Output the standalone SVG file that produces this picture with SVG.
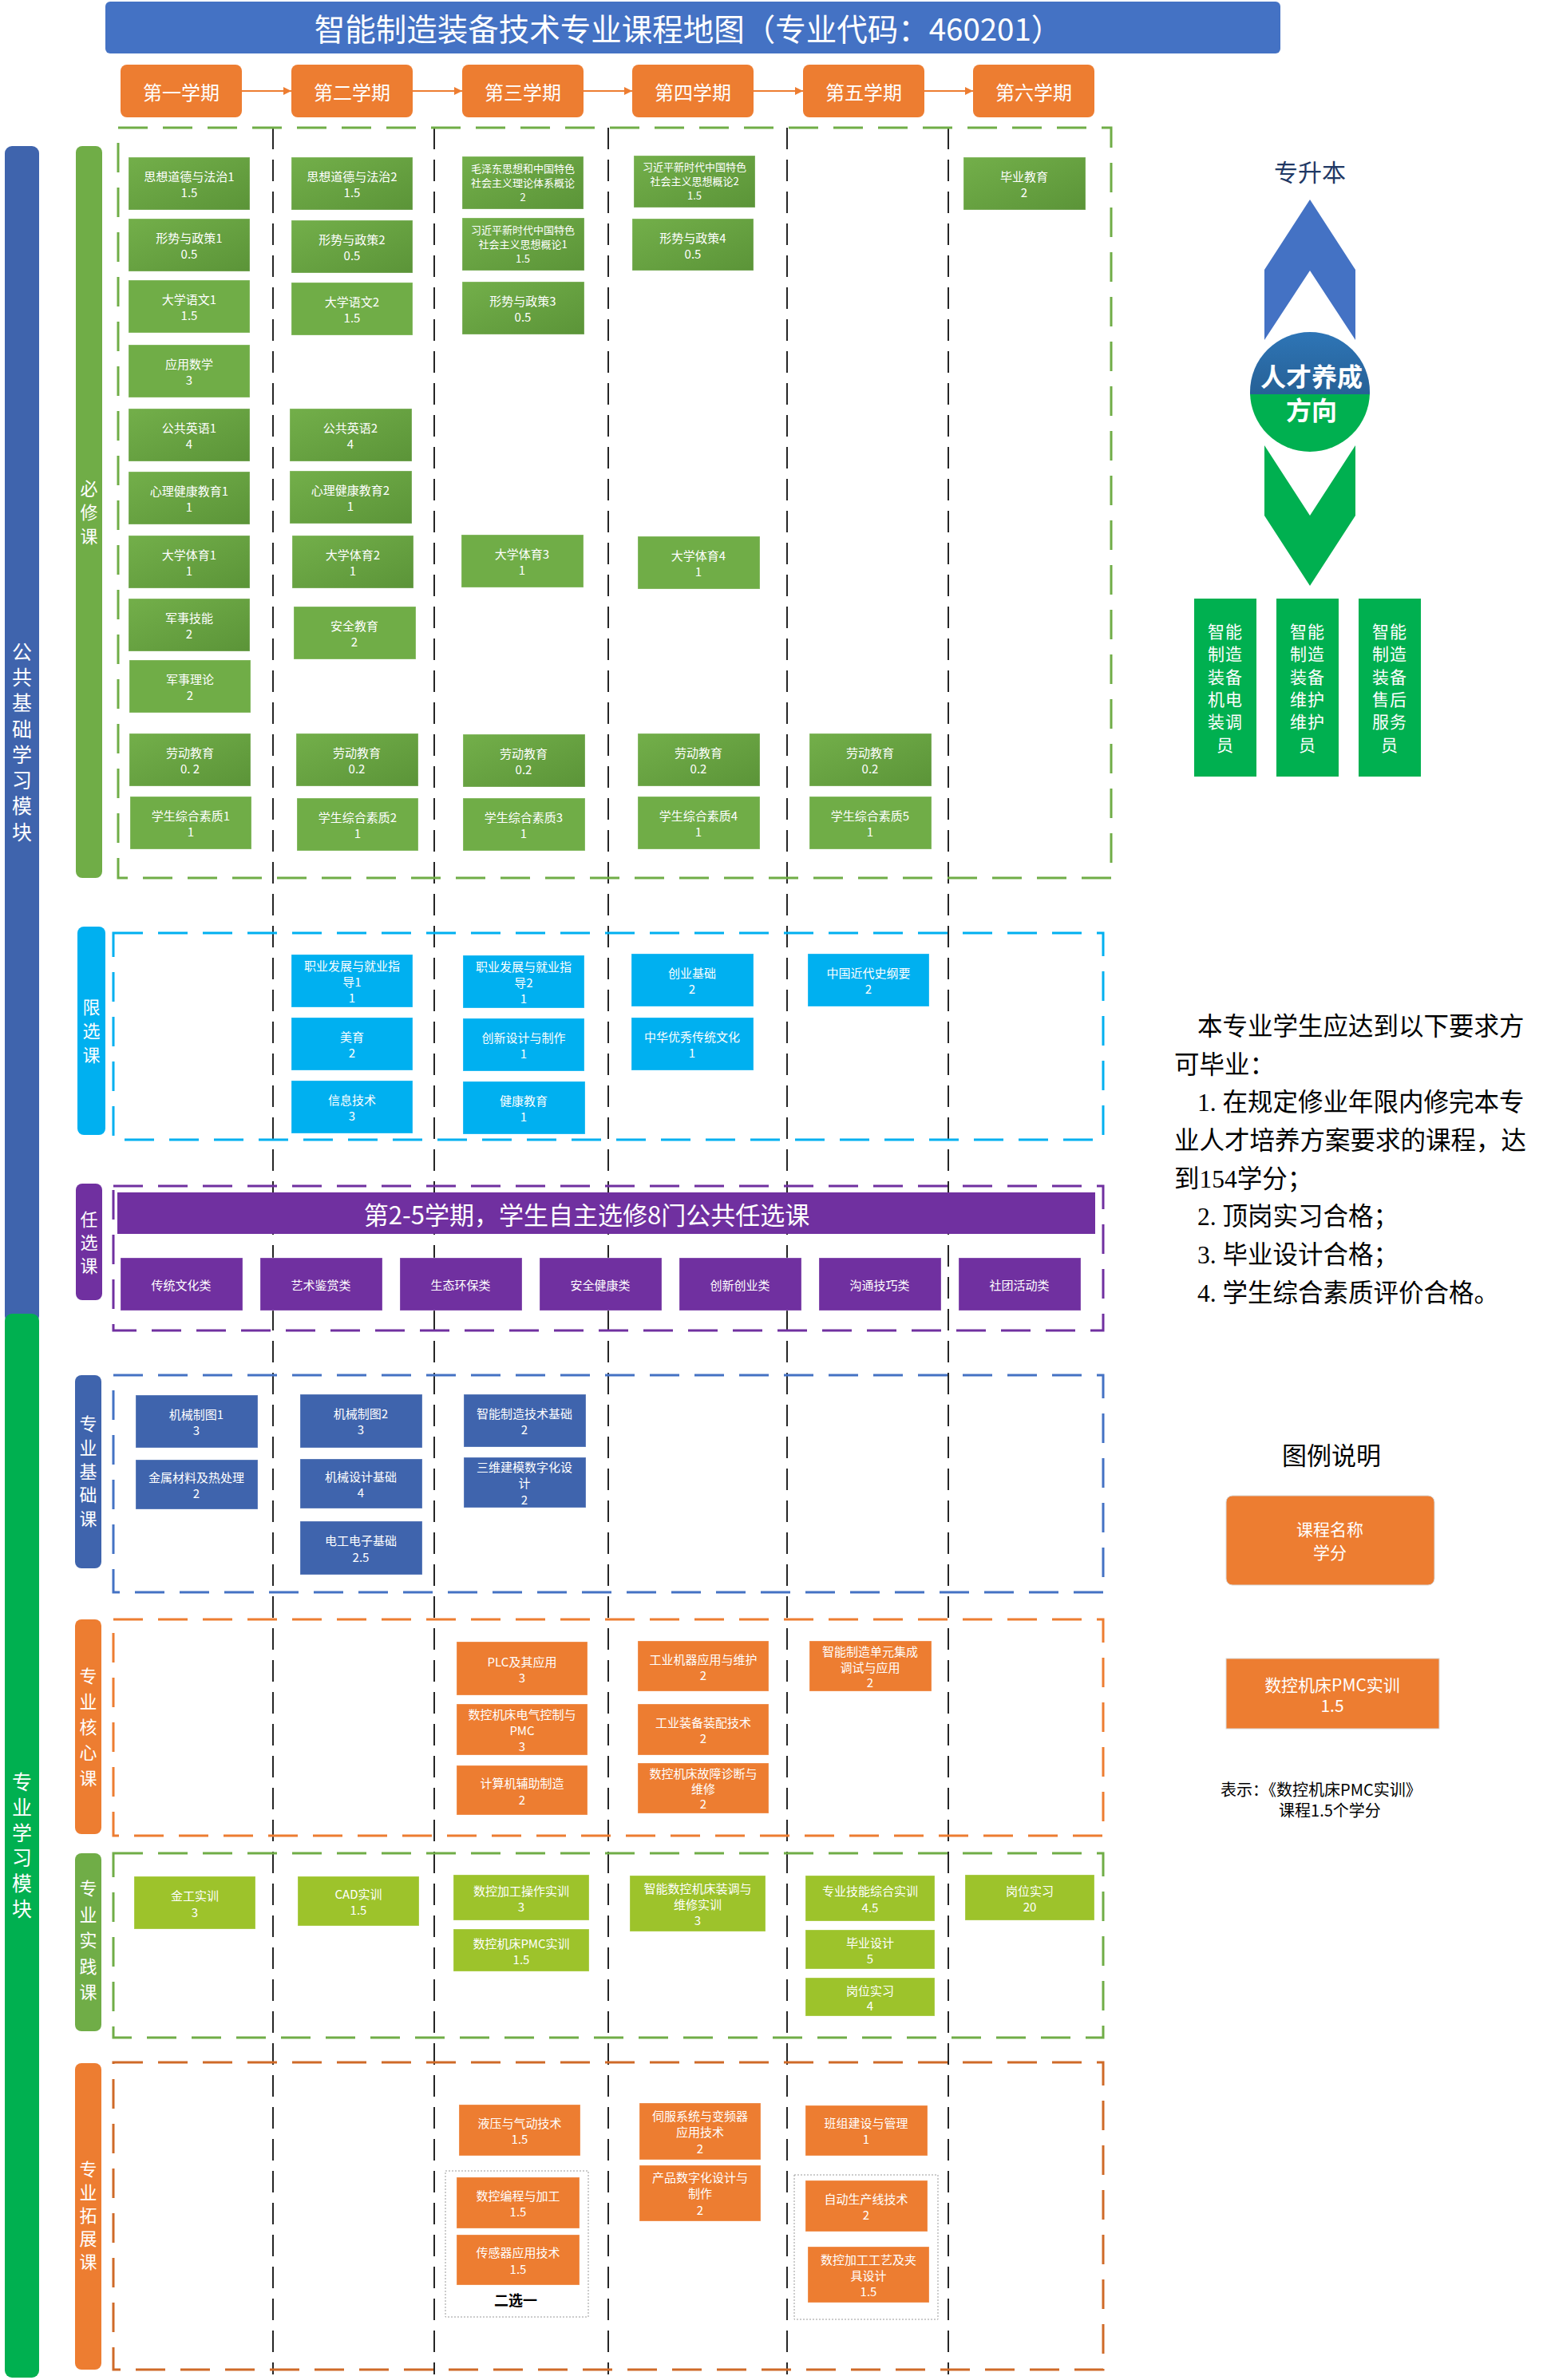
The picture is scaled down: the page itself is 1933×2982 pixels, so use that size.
<svg xmlns="http://www.w3.org/2000/svg" width="1933" height="2982" viewBox="0 0 1933 2982">
<defs>
<linearGradient id="gg" x1="0" y1="0" x2="1" y2="1">
<stop offset="0" stop-color="#73AF4A"/><stop offset="1" stop-color="#5B9438"/>
</linearGradient>
<linearGradient id="cb" x1="0" y1="0" x2="0" y2="1">
<stop offset="0" stop-color="#2E75B6"/><stop offset="1" stop-color="#1F4E79"/>
</linearGradient>
<clipPath id="ctop"><rect x="1560" y="410" width="165" height="84"/></clipPath>
<clipPath id="cbot"><rect x="1560" y="494" width="165" height="80"/></clipPath>
<marker id="ah" markerWidth="10" markerHeight="10" refX="10" refY="5" orient="auto" markerUnits="userSpaceOnUse">
<path d="M0,0 L10,5 L0,10 z" fill="#ED7D31"/>
</marker>
</defs>
<style>
text{font-family:"Noto Sans CJK SC","Liberation Sans",sans-serif;dominant-baseline:central}
.n text{font-size:15px;fill:#fff;text-anchor:middle}
.n.s text{font-size:13px}
.n rect{stroke:#fff;stroke-opacity:0.3;stroke-width:1}
.gr{fill:url(#gg)}
.gf{fill:#70AD47}
.cy{fill:#00B0F0}
.pu{fill:#7030A0}
.bl{fill:#3F64AD}
.or{fill:#ED7D31}
.yg{fill:#9DC32B}
.fr{fill:none;stroke-width:3;stroke-dasharray:37 19}
.lab text{font-size:22px;fill:#fff;text-anchor:middle}
.big text{font-size:25px;fill:#fff;text-anchor:middle}
.sem text{font-size:24px;fill:#fff;text-anchor:middle}
.div line{stroke:#000;stroke-width:1.7;stroke-dasharray:27 13}
.job text{font-size:21px;fill:#fff;text-anchor:middle;letter-spacing:1px}
.req text{font-size:31.5px;fill:#000;font-family:"Liberation Serif","Noto Sans CJK SC",serif}
</style>
<rect width="1933" height="2982" fill="#fff"/>

<!-- title -->
<g id="title">
<rect x="132" y="2" width="1472" height="65" rx="6" fill="#4472C4"/>
<text x="862" y="34" font-size="38.5" fill="#fff" text-anchor="middle">智能制造装备技术专业课程地图（专业代码：460201）</text>
</g>

<!-- big left bars -->
<g id="bar-public" class="big">
<rect x="6" y="183" width="43" height="1475" rx="9" fill="#3F64AD"/>
<text x="27.5" y="815">公</text><text x="27.5" y="847">共</text><text x="27.5" y="879">基</text><text x="27.5" y="912">础</text><text x="27.5" y="944">学</text><text x="27.5" y="976">习</text><text x="27.5" y="1008">模</text><text x="27.5" y="1041">块</text>
</g>
<g id="bar-major" class="big">
<rect x="6" y="1646" width="43" height="1333" rx="9" fill="#00B050"/>
<text x="27.5" y="2231">专</text><text x="27.5" y="2263">业</text><text x="27.5" y="2295">学</text><text x="27.5" y="2326">习</text><text x="27.5" y="2358">模</text><text x="27.5" y="2390">块</text>
</g>

<!-- semester column dividers -->
<g id="dividers" class="div">
<line x1="342" y1="160" x2="342" y2="2975"/>
<line x1="544" y1="160" x2="544" y2="2975"/>
<line x1="762" y1="160" x2="762" y2="2975"/>
<line x1="986" y1="160" x2="986" y2="2975"/>
<line x1="1188" y1="160" x2="1188" y2="2975"/>
</g>

<!-- section frames -->
<g id="frames">
<rect class="fr" x="148" y="160" width="1244" height="940" stroke="#70AD47"/>
<rect class="fr" x="142" y="1169" width="1240" height="259" stroke="#00B0F0"/>
<rect class="fr" x="142" y="1486" width="1240" height="181" stroke="#7030A0"/>
<rect class="fr" x="142" y="1723" width="1240" height="272" stroke="#4472C4"/>
<rect class="fr" x="142" y="2029" width="1240" height="271" stroke="#ED7D31"/>
<rect class="fr" x="142" y="2322" width="1240" height="231" stroke="#70AD47"/>
<rect class="fr" x="142" y="2584" width="1240" height="385" stroke="#CF6A28"/>
</g>

<!-- section labels -->
<g id="lab-bixiu" class="lab"><rect x="95" y="183" width="33" height="917" rx="8" fill="#70AD47"/><text x="111.5" y="610">必</text><text x="111.5" y="640">修</text><text x="111.5" y="670">课</text></g>
<g id="lab-xianxuan" class="lab"><rect x="97" y="1161" width="35" height="261" rx="8" fill="#00B0F0"/><text x="114.5" y="1260">限</text><text x="114.5" y="1290">选</text><text x="114.5" y="1320">课</text></g>
<g id="lab-renxuan" class="lab"><rect x="95" y="1483" width="33" height="146" rx="8" fill="#7030A0"/><text x="111.5" y="1526">任</text><text x="111.5" y="1555">选</text><text x="111.5" y="1584">课</text></g>
<g id="lab-jichu" class="lab"><rect x="94" y="1723" width="33" height="242" rx="8" fill="#3F64AD"/><text x="110.5" y="1782">专</text><text x="110.5" y="1812">业</text><text x="110.5" y="1842">基</text><text x="110.5" y="1871">础</text><text x="110.5" y="1901">课</text></g>
<g id="lab-hexin" class="lab"><rect x="94" y="2029" width="33" height="269" rx="8" fill="#ED7D31"/><text x="110.5" y="2098">专</text><text x="110.5" y="2130">业</text><text x="110.5" y="2162">核</text><text x="110.5" y="2194">心</text><text x="110.5" y="2226">课</text></g>
<g id="lab-shijian" class="lab"><rect x="94" y="2322" width="33" height="223" rx="8" fill="#70AD47"/><text x="110.5" y="2364">专</text><text x="110.5" y="2397">业</text><text x="110.5" y="2429">实</text><text x="110.5" y="2462">践</text><text x="110.5" y="2494">课</text></g>
<g id="lab-tuozhan" class="lab"><rect x="94" y="2585" width="33" height="384" rx="8" fill="#ED7D31"/><text x="110.5" y="2716">专</text><text x="110.5" y="2745">业</text><text x="110.5" y="2774">拓</text><text x="110.5" y="2803">展</text><text x="110.5" y="2832">课</text></g>

<!-- semesters -->
<g id="sem1" class="sem"><rect x="151" y="81" width="152" height="66" rx="8" fill="#ED7D31"/><text x="227" y="114">第一学期</text></g>
<g id="sem2" class="sem"><rect x="365" y="81" width="152" height="66" rx="8" fill="#ED7D31"/><text x="441" y="114">第二学期</text></g>
<g id="sem3" class="sem"><rect x="579" y="81" width="152" height="66" rx="8" fill="#ED7D31"/><text x="655" y="114">第三学期</text></g>
<g id="sem4" class="sem"><rect x="792" y="81" width="152" height="66" rx="8" fill="#ED7D31"/><text x="868" y="114">第四学期</text></g>
<g id="sem5" class="sem"><rect x="1006" y="81" width="152" height="66" rx="8" fill="#ED7D31"/><text x="1082" y="114">第五学期</text></g>
<g id="sem6" class="sem"><rect x="1219" y="81" width="152" height="66" rx="8" fill="#ED7D31"/><text x="1295" y="114">第六学期</text></g>

<g id="connectors" stroke="#ED7D31" stroke-width="2" fill="none">
<line x1="303" y1="114" x2="365" y2="114" marker-end="url(#ah)"/>
<line x1="517" y1="114" x2="579" y2="114" marker-end="url(#ah)"/>
<line x1="731" y1="114" x2="792" y2="114" marker-end="url(#ah)"/>
<line x1="944" y1="114" x2="1006" y2="114" marker-end="url(#ah)"/>
<line x1="1158" y1="114" x2="1219" y2="114" marker-end="url(#ah)"/>
</g>

<!-- required courses, col 1 -->
<g id="r1-1" class="n"><rect class="gr" x="161" y="197" width="152" height="66"/><text x="237" y="220">思想道德与法治1</text><text x="237" y="240">1.5</text></g>
<g id="r1-2" class="n"><rect class="gr" x="161" y="274" width="152" height="66"/><text x="237" y="297">形势与政策1</text><text x="237" y="317">0.5</text></g>
<g id="r1-3" class="n"><rect class="gf" x="161" y="351" width="152" height="66"/><text x="237" y="374">大学语文1</text><text x="237" y="394">1.5</text></g>
<g id="r1-4" class="n"><rect class="gf" x="161" y="432" width="152" height="66"/><text x="237" y="455">应用数学</text><text x="237" y="475">3</text></g>
<g id="r1-5" class="n"><rect class="gr" x="161" y="512" width="152" height="66"/><text x="237" y="535">公共英语1</text><text x="237" y="555">4</text></g>
<g id="r1-6" class="n"><rect class="gr" x="161" y="591" width="152" height="66"/><text x="237" y="614">心理健康教育1</text><text x="237" y="634">1</text></g>
<g id="r1-7" class="n"><rect class="gr" x="161" y="671" width="152" height="66"/><text x="237" y="694">大学体育1</text><text x="237" y="714">1</text></g>
<g id="r1-8" class="n"><rect class="gr" x="161" y="750" width="152" height="66"/><text x="237" y="773">军事技能</text><text x="237" y="793">2</text></g>
<g id="r1-9" class="n"><rect class="gf" x="162" y="827" width="152" height="66"/><text x="238" y="850">军事理论</text><text x="238" y="870">2</text></g>
<g id="r1-10" class="n"><rect class="gr" x="162" y="919" width="152" height="66"/><text x="238" y="942">劳动教育</text><text x="238" y="962">0. 2</text></g>
<g id="r1-11" class="n"><rect class="gf" x="163" y="998" width="152" height="66"/><text x="239" y="1021">学生综合素质1</text><text x="239" y="1041">1</text></g>

<!-- col 2 -->
<g id="r2-1" class="n"><rect class="gr" x="365" y="197" width="152" height="66"/><text x="441" y="220">思想道德与法治2</text><text x="441" y="240">1.5</text></g>
<g id="r2-2" class="n"><rect class="gr" x="365" y="276" width="152" height="66"/><text x="441" y="299">形势与政策2</text><text x="441" y="319">0.5</text></g>
<g id="r2-3" class="n"><rect class="gf" x="365" y="354" width="152" height="66"/><text x="441" y="377">大学语文2</text><text x="441" y="397">1.5</text></g>
<g id="r2-4" class="n"><rect class="gr" x="363" y="512" width="153" height="66"/><text x="439" y="535">公共英语2</text><text x="439" y="555">4</text></g>
<g id="r2-5" class="n"><rect class="gr" x="363" y="590" width="153" height="66"/><text x="439" y="613">心理健康教育2</text><text x="439" y="633">1</text></g>
<g id="r2-6" class="n"><rect class="gr" x="366" y="671" width="152" height="66"/><text x="442" y="694">大学体育2</text><text x="442" y="714">1</text></g>
<g id="r2-7" class="n"><rect class="gf" x="368" y="760" width="153" height="66"/><text x="444" y="783">安全教育</text><text x="444" y="803">2</text></g>
<g id="r2-8" class="n"><rect class="gr" x="371" y="919" width="153" height="66"/><text x="447" y="942">劳动教育</text><text x="447" y="962">0.2</text></g>
<g id="r2-9" class="n"><rect class="gf" x="372" y="1000" width="152" height="66"/><text x="448" y="1023">学生综合素质2</text><text x="448" y="1043">1</text></g>

<!-- col 3 -->
<g id="r3-1" class="n s"><rect class="gr" x="579" y="196" width="152" height="66"/><text x="655" y="210">毛泽东思想和中国特色</text><text x="655" y="228">社会主义理论体系概论</text><text x="655" y="246">2</text></g>
<g id="r3-2" class="n s"><rect class="gr" x="579" y="273" width="153" height="66"/><text x="655" y="287">习近平新时代中国特色</text><text x="655" y="305">社会主义思想概论1</text><text x="655" y="323">1.5</text></g>
<g id="r3-3" class="n"><rect class="gr" x="579" y="353" width="153" height="66"/><text x="655" y="376">形势与政策3</text><text x="655" y="396">0.5</text></g>
<g id="r3-4" class="n"><rect class="gf" x="578" y="670" width="153" height="66"/><text x="654" y="693">大学体育3</text><text x="654" y="713">1</text></g>
<g id="r3-5" class="n"><rect class="gr" x="580" y="920" width="153" height="66"/><text x="656" y="943">劳动教育</text><text x="656" y="963">0.2</text></g>
<g id="r3-6" class="n"><rect class="gf" x="580" y="1000" width="153" height="66"/><text x="656" y="1023">学生综合素质3</text><text x="656" y="1043">1</text></g>

<!-- col 4 -->
<g id="r4-1" class="n s"><rect class="gr" x="794" y="195" width="152" height="65"/><text x="870" y="208">习近平新时代中国特色</text><text x="870" y="226">社会主义思想概论2</text><text x="870" y="244">1.5</text></g>
<g id="r4-2" class="n"><rect class="gr" x="792" y="274" width="152" height="65"/><text x="868" y="297">形势与政策4</text><text x="868" y="317">0.5</text></g>
<g id="r4-3" class="n"><rect class="gf" x="799" y="672" width="153" height="66"/><text x="875" y="695">大学体育4</text><text x="875" y="715">1</text></g>
<g id="r4-4" class="n"><rect class="gr" x="799" y="919" width="153" height="66"/><text x="875" y="942">劳动教育</text><text x="875" y="962">0.2</text></g>
<g id="r4-5" class="n"><rect class="gf" x="799" y="998" width="153" height="66"/><text x="875" y="1021">学生综合素质4</text><text x="875" y="1041">1</text></g>

<!-- col 5, 6 -->
<g id="r5-1" class="n"><rect class="gr" x="1014" y="919" width="153" height="66"/><text x="1090" y="942">劳动教育</text><text x="1090" y="962">0.2</text></g>
<g id="r5-2" class="n"><rect class="gf" x="1014" y="998" width="153" height="66"/><text x="1090" y="1021">学生综合素质5</text><text x="1090" y="1041">1</text></g>
<g id="r6-1" class="n"><rect class="gr" x="1207" y="197" width="153" height="66"/><text x="1283" y="220">毕业教育</text><text x="1283" y="240">2</text></g>

<!-- limited electives -->
<g id="x2-1" class="n"><rect class="cy" x="365" y="1196" width="152" height="66"/><text x="441" y="1209">职业发展与就业指</text><text x="441" y="1229">导1</text><text x="441" y="1249">1</text></g>
<g id="x2-2" class="n"><rect class="cy" x="365" y="1275" width="152" height="66"/><text x="441" y="1298">美育</text><text x="441" y="1318">2</text></g>
<g id="x2-3" class="n"><rect class="cy" x="365" y="1354" width="152" height="66"/><text x="441" y="1377">信息技术</text><text x="441" y="1397">3</text></g>
<g id="x3-1" class="n"><rect class="cy" x="580" y="1197" width="152" height="66"/><text x="656" y="1210">职业发展与就业指</text><text x="656" y="1230">导2</text><text x="656" y="1250">1</text></g>
<g id="x3-2" class="n"><rect class="cy" x="580" y="1276" width="152" height="66"/><text x="656" y="1299">创新设计与制作</text><text x="656" y="1319">1</text></g>
<g id="x3-3" class="n"><rect class="cy" x="580" y="1355" width="153" height="66"/><text x="656" y="1378">健康教育</text><text x="656" y="1398">1</text></g>
<g id="x4-1" class="n"><rect class="cy" x="791" y="1195" width="153" height="66"/><text x="867" y="1218">创业基础</text><text x="867" y="1238">2</text></g>
<g id="x4-2" class="n"><rect class="cy" x="791" y="1275" width="153" height="66"/><text x="867" y="1298">中华优秀传统文化</text><text x="867" y="1318">1</text></g>
<g id="x5-1" class="n"><rect class="cy" x="1012" y="1195" width="152" height="66"/><text x="1088" y="1218">中国近代史纲要</text><text x="1088" y="1238">2</text></g>

<!-- free electives -->
<g id="banner"><rect x="147" y="1494" width="1225" height="52" fill="#7030A0"/><text x="735" y="1520" font-size="31" fill="#fff" text-anchor="middle">第2-5学期，学生自主选修8门公共任选课</text></g>
<g id="e1" class="n"><rect class="pu" x="151" y="1576" width="153" height="66"/><text x="227" y="1609">传统文化类</text></g>
<g id="e2" class="n"><rect class="pu" x="326" y="1576" width="153" height="66"/><text x="402" y="1609">艺术鉴赏类</text></g>
<g id="e3" class="n"><rect class="pu" x="501" y="1576" width="153" height="66"/><text x="577" y="1609">生态环保类</text></g>
<g id="e4" class="n"><rect class="pu" x="676" y="1576" width="153" height="66"/><text x="752" y="1609">安全健康类</text></g>
<g id="e5" class="n"><rect class="pu" x="851" y="1576" width="153" height="66"/><text x="927" y="1609">创新创业类</text></g>
<g id="e6" class="n"><rect class="pu" x="1026" y="1576" width="153" height="66"/><text x="1102" y="1609">沟通技巧类</text></g>
<g id="e7" class="n"><rect class="pu" x="1201" y="1576" width="153" height="66"/><text x="1277" y="1609">社团活动类</text></g>

<!-- professional basic -->
<g id="b1-1" class="n"><rect class="bl" x="170" y="1748" width="153" height="66"/><text x="246" y="1771">机械制图1</text><text x="246" y="1791">3</text></g>
<g id="b1-2" class="n"><rect class="bl" x="170" y="1829" width="153" height="62"/><text x="246" y="1850">金属材料及热处理</text><text x="246" y="1870">2</text></g>
<g id="b2-1" class="n"><rect class="bl" x="376" y="1747" width="153" height="67"/><text x="452" y="1770">机械制图2</text><text x="452" y="1790">3</text></g>
<g id="b2-2" class="n"><rect class="bl" x="376" y="1828" width="153" height="62"/><text x="452" y="1849">机械设计基础</text><text x="452" y="1869">4</text></g>
<g id="b2-3" class="n"><rect class="bl" x="376" y="1906" width="153" height="67"/><text x="452" y="1929">电工电子基础</text><text x="452" y="1950">2.5</text></g>
<g id="b3-1" class="n"><rect class="bl" x="581" y="1747" width="153" height="66"/><text x="657" y="1770">智能制造技术基础</text><text x="657" y="1790">2</text></g>
<g id="b3-2" class="n"><rect class="bl" x="581" y="1826" width="153" height="63"/><text x="657" y="1837">三维建模数字化设</text><text x="657" y="1857">计</text><text x="657" y="1878">2</text></g>

<!-- professional core -->
<g id="k3-1" class="n"><rect class="or" x="572" y="2057" width="164" height="67"/><text x="654" y="2081">PLC及其应用</text><text x="654" y="2101">3</text></g>
<g id="k3-2" class="n"><rect class="or" x="572" y="2135" width="164" height="64"/><text x="654" y="2147">数控机床电气控制与</text><text x="654" y="2167">PMC</text><text x="654" y="2187">3</text></g>
<g id="k3-3" class="n"><rect class="or" x="572" y="2212" width="164" height="62"/><text x="654" y="2233">计算机辅助制造</text><text x="654" y="2254">2</text></g>
<g id="k4-1" class="n"><rect class="or" x="799" y="2056" width="164" height="63"/><text x="881" y="2078">工业机器应用与维护</text><text x="881" y="2098">2</text></g>
<g id="k4-2" class="n"><rect class="or" x="799" y="2135" width="164" height="64"/><text x="881" y="2157">工业装备装配技术</text><text x="881" y="2177">2</text></g>
<g id="k4-3" class="n"><rect class="or" x="799" y="2209" width="164" height="63"/><text x="881" y="2221">数控机床故障诊断与</text><text x="881" y="2240">维修</text><text x="881" y="2259">2</text></g>
<g id="k5-1" class="n"><rect class="or" x="1014" y="2056" width="153" height="63"/><text x="1090" y="2068">智能制造单元集成</text><text x="1090" y="2088">调试与应用</text><text x="1090" y="2107">2</text></g>

<!-- professional practice -->
<g id="p1" class="n"><rect class="yg" x="168" y="2351" width="152" height="66"/><text x="244" y="2374">金工实训</text><text x="244" y="2395">3</text></g>
<g id="p2" class="n"><rect class="yg" x="373" y="2351" width="152" height="62"/><text x="449" y="2372">CAD实训</text><text x="449" y="2392">1.5</text></g>
<g id="p3-1" class="n"><rect class="yg" x="568" y="2349" width="170" height="57"/><text x="653" y="2368">数控加工操作实训</text><text x="653" y="2388">3</text></g>
<g id="p3-2" class="n"><rect class="yg" x="568" y="2417" width="170" height="53"/><text x="653" y="2434">数控机床PMC实训</text><text x="653" y="2454">1.5</text></g>
<g id="p4" class="n"><rect class="yg" x="789" y="2350" width="170" height="70"/><text x="874" y="2365">智能数控机床装调与</text><text x="874" y="2385">维修实训</text><text x="874" y="2405">3</text></g>
<g id="p5-1" class="n"><rect class="yg" x="1009" y="2350" width="162" height="57"/><text x="1090" y="2368">专业技能综合实训</text><text x="1090" y="2389">4.5</text></g>
<g id="p5-2" class="n"><rect class="yg" x="1009" y="2418" width="162" height="49"/><text x="1090" y="2433">毕业设计</text><text x="1090" y="2453">5</text></g>
<g id="p5-3" class="n"><rect class="yg" x="1009" y="2478" width="162" height="48"/><text x="1090" y="2493">岗位实习</text><text x="1090" y="2512">4</text></g>
<g id="p6" class="n"><rect class="yg" x="1209" y="2349" width="162" height="57"/><text x="1290" y="2368">岗位实习</text><text x="1290" y="2388">20</text></g>

<!-- professional extension -->
<g id="choice-a"><rect x="558" y="2720" width="179" height="183" fill="none" stroke="#9a9a9a" stroke-width="1" stroke-dasharray="2 2"/><text x="646" y="2881" font-size="18" font-weight="bold" fill="#000" text-anchor="middle">二选一</text></g>
<g id="choice-b"><rect x="995" y="2725" width="180" height="181" fill="none" stroke="#9a9a9a" stroke-width="1" stroke-dasharray="2 2"/></g>
<g id="t3-1" class="n"><rect class="or" x="575" y="2637" width="152" height="64"/><text x="651" y="2659">液压与气动技术</text><text x="651" y="2679">1.5</text></g>
<g id="t3-2" class="n"><rect class="or" x="572" y="2728" width="154" height="64"/><text x="649" y="2750">数控编程与加工</text><text x="649" y="2770">1.5</text></g>
<g id="t3-3" class="n"><rect class="or" x="572" y="2800" width="154" height="63"/><text x="649" y="2821">传感器应用技术</text><text x="649" y="2842">1.5</text></g>
<g id="t4-1" class="n"><rect class="or" x="801" y="2635" width="152" height="71"/><text x="877" y="2650">伺服系统与变频器</text><text x="877" y="2670">应用技术</text><text x="877" y="2691">2</text></g>
<g id="t4-2" class="n"><rect class="or" x="801" y="2713" width="152" height="70"/><text x="877" y="2727">产品数字化设计与</text><text x="877" y="2747">制作</text><text x="877" y="2768">2</text></g>
<g id="t5-1" class="n"><rect class="or" x="1009" y="2638" width="153" height="63"/><text x="1085" y="2659">班组建设与管理</text><text x="1085" y="2679">1</text></g>
<g id="t5-2" class="n"><rect class="or" x="1009" y="2732" width="153" height="64"/><text x="1085" y="2754">自动生产线技术</text><text x="1085" y="2774">2</text></g>
<g id="t5-3" class="n"><rect class="or" x="1012" y="2815" width="152" height="70"/><text x="1088" y="2830">数控加工工艺及夹</text><text x="1088" y="2850">具设计</text><text x="1088" y="2870">1.5</text></g>

<!-- right side: talent direction -->
<g id="zsb"><text x="1641" y="214" font-size="30" fill="#1F3864" text-anchor="middle">专升本</text></g>
<g id="arrow-up"><polygon points="1584,338 1641,250 1698,338 1698,426 1641,339 1584,426" fill="#4472C4"/></g>
<g id="arrow-down"><polygon points="1584,558 1641,646 1698,558 1698,646 1641,734 1584,646" fill="#00B050"/></g>
<g id="talent">
<circle cx="1641" cy="491" r="75" fill="url(#cb)" clip-path="url(#ctop)"/>
<circle cx="1641" cy="491" r="75" fill="#00B050" clip-path="url(#cbot)"/>
<text x="1643" y="470" font-size="32" font-weight="bold" fill="#fff" text-anchor="middle">人才养成</text>
<text x="1643" y="512" font-size="32" font-weight="bold" fill="#fff" text-anchor="middle">方向</text>
</g>
<g id="job1" class="job"><rect x="1496" y="750" width="78" height="223" fill="#00B050"/><text x="1535" y="790">智能</text><text x="1535" y="818">制造</text><text x="1535" y="847">装备</text><text x="1535" y="875">机电</text><text x="1535" y="903">装调</text><text x="1535" y="932">员</text></g>
<g id="job2" class="job"><rect x="1599" y="750" width="78" height="223" fill="#00B050"/><text x="1638" y="790">智能</text><text x="1638" y="818">制造</text><text x="1638" y="847">装备</text><text x="1638" y="875">维护</text><text x="1638" y="903">维护</text><text x="1638" y="932">员</text></g>
<g id="job3" class="job"><rect x="1702" y="750" width="78" height="223" fill="#00B050"/><text x="1741" y="790">智能</text><text x="1741" y="818">制造</text><text x="1741" y="847">装备</text><text x="1741" y="875">售后</text><text x="1741" y="903">服务</text><text x="1741" y="932">员</text></g>

<!-- graduation requirements -->
<g id="requirements" class="req">
<text x="1500" y="1286">本专业学生应达到以下要求方</text>
<text x="1471" y="1334">可毕业：</text>
<text x="1500" y="1381">1. 在规定修业年限内修完本专</text>
<text x="1471" y="1429">业人才培养方案要求的课程，达</text>
<text x="1471" y="1477">到154学分；</text>
<text x="1500" y="1524">2. 顶岗实习合格；</text>
<text x="1500" y="1572">3. 毕业设计合格；</text>
<text x="1500" y="1620">4. 学生综合素质评价合格。</text>
</g>

<!-- legend -->
<g id="legend">
<text x="1668" y="1821" font-size="31" fill="#000" text-anchor="middle">图例说明</text>
<rect x="1536" y="1874" width="261" height="112" rx="8" fill="#ED7D31" stroke="#d9d9d9" stroke-width="1"/>
<text x="1666" y="1915" font-size="21" fill="#fff" text-anchor="middle">课程名称</text>
<text x="1666" y="1944" font-size="21" fill="#fff" text-anchor="middle">学分</text>
<rect x="1536" y="2078" width="267" height="88" fill="#ED7D31" stroke="#d9d9d9" stroke-width="1"/>
<text x="1669" y="2110" font-size="21" fill="#fff" text-anchor="middle">数控机床PMC实训</text>
<text x="1669" y="2136" font-size="21" fill="#fff" text-anchor="middle">1.5</text>
<text x="1529" y="2241" font-size="20" fill="#000">表示：《数控机床PMC实训》</text>
<text x="1666" y="2267" font-size="20" fill="#000" text-anchor="middle">课程1.5个学分</text>
</g>
</svg>
